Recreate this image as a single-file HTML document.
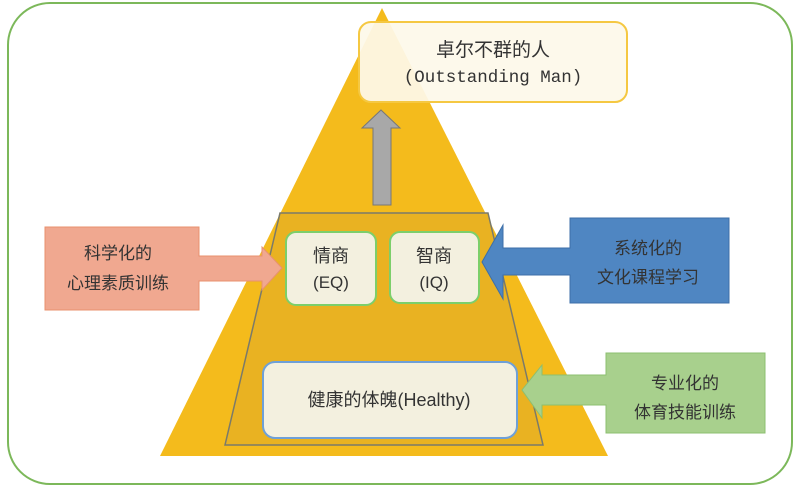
<!DOCTYPE html>
<html><head><meta charset="utf-8"><style>
body{margin:0;background:#fff;width:800px;height:489px;overflow:hidden}
svg{display:block}
text{font-family:"Liberation Sans","Noto Sans CJK SC",sans-serif;fill:#333;text-anchor:middle}
.m{font-family:"Liberation Mono","Noto Sans CJK SC",monospace}
</style></head><body>
<svg width="800" height="489" viewBox="0 0 800 489">
<rect x="8" y="3" width="784" height="481" rx="42" fill="#fff" stroke="#7cb85a" stroke-width="2"/>
<polygon points="382,8 160,456 608,456" fill="#f4bb1c"/>
<polygon points="280,213 488,213 543,445 225,445" fill="#e9b222" stroke="#7a7a6a" stroke-width="1.5"/>
<rect x="359" y="22" width="268" height="80" rx="12" fill="#fdf9ea" fill-opacity="0.93" stroke="#f5c842" stroke-width="2"/>
<text x="493" y="56" font-size="19">卓尔不群的人</text>
<text class="m" x="493" y="82" font-size="17.5">(Outstanding Man)</text>
<polygon points="381,110 400,128 391,128 391,205 373,205 373,128 362,128" fill="#a8a8a8" stroke="#777" stroke-width="1"/>
<rect x="286" y="232" width="90" height="73" rx="10" fill="#f3f0df" stroke="#7ccf6a" stroke-width="2"/>
<text x="331" y="262" font-size="18">情商</text>
<text x="331" y="288" font-size="17">(EQ)</text>
<rect x="390" y="232" width="89" height="71" rx="10" fill="#f3f0df" stroke="#7ccf6a" stroke-width="2"/>
<text x="434" y="262" font-size="18">智商</text>
<text x="434" y="288" font-size="17">(IQ)</text>
<rect x="263" y="362" width="254" height="76" rx="12" fill="#f3f0df" stroke="#6ea0d8" stroke-width="2"/>
<text x="389" y="406" font-size="18">健康的体魄(Healthy)</text>
<polygon points="45,227 199,227 199,256 262,256 262,247 282,268 262,290 262,281 199,281 199,310 45,310" fill="#f0a890" stroke="#e8916e" stroke-width="1"/>
<text x="118" y="259" font-size="17">科学化的</text>
<text x="118" y="289" font-size="17">心理素质训练</text>
<polygon points="729,218 570,218 570,248 503,248 503,225 482,262 503,299 503,275 570,275 570,303 729,303" fill="#4f86c2" stroke="#3d6fa8" stroke-width="1"/>
<text x="648" y="254" font-size="17">系统化的</text>
<text x="648" y="283" font-size="17">文化课程学习</text>
<polygon points="765,353 606,353 606,375 542,375 542,365 522,390 542,418 542,405 606,405 606,433 765,433" fill="#a8d08d" stroke="#8cbf70" stroke-width="1"/>
<text x="685" y="389" font-size="17">专业化的</text>
<text x="685" y="418" font-size="17">体育技能训练</text>
</svg>
</body></html>
